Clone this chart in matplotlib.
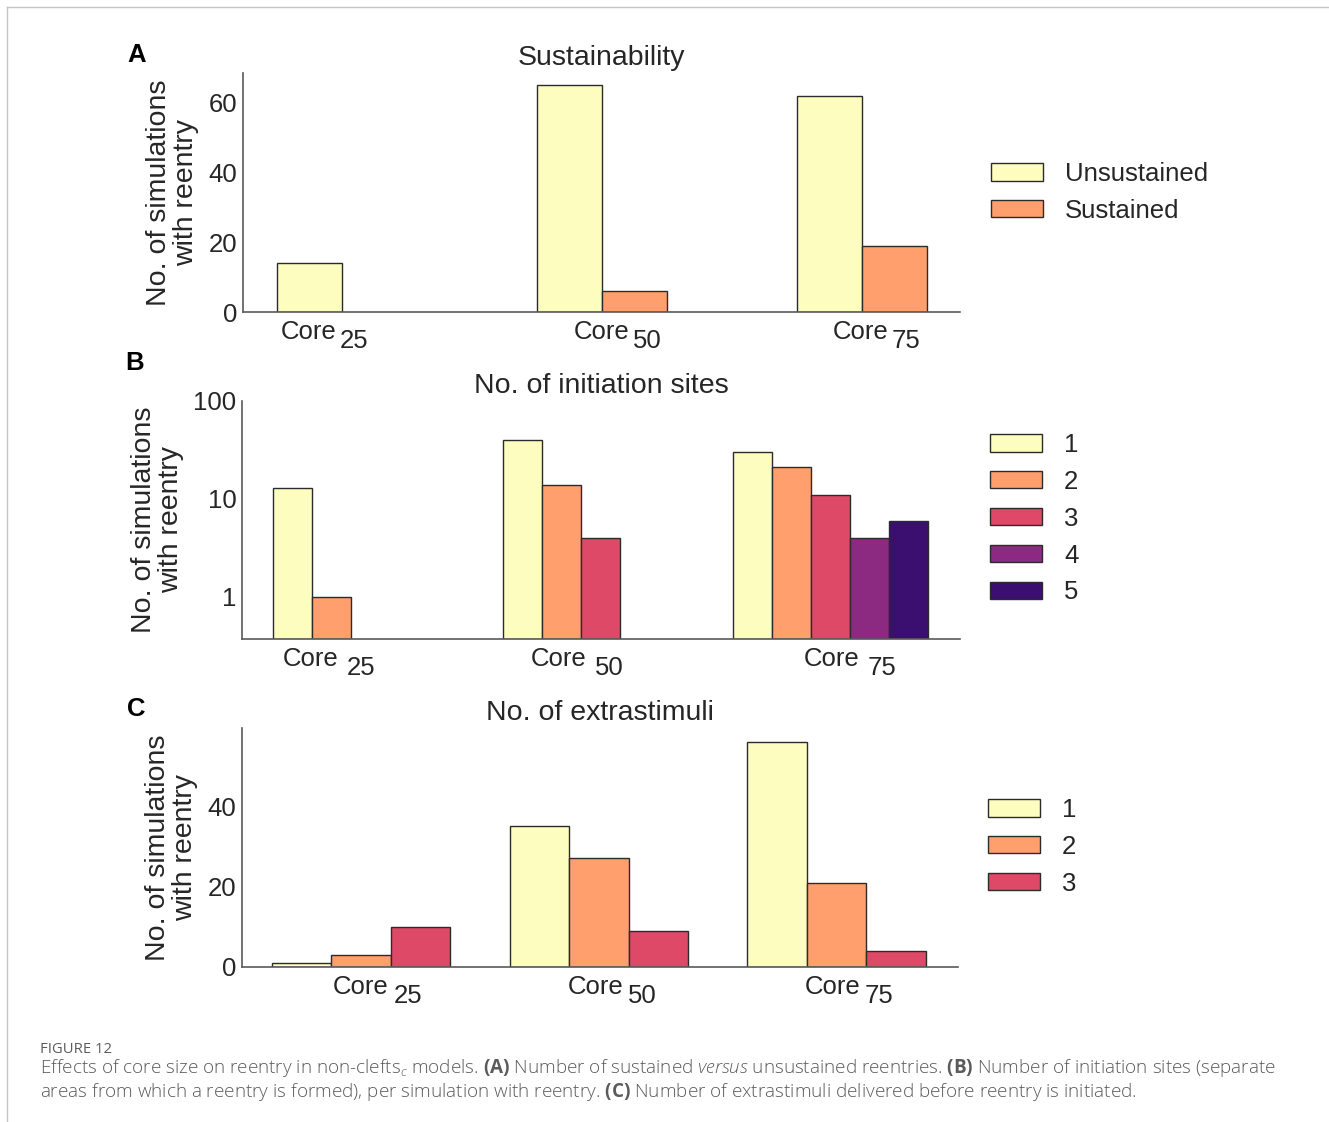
import matplotlib
matplotlib.use("Agg")
import matplotlib.pyplot as plt
from matplotlib.lines import Line2D
from matplotlib.patches import Patch

plt.rcParams["font.family"] = ["Liberation Sans", "DejaVu Sans"]
plt.rcParams["mathtext.fontset"] = "custom"
plt.rcParams["mathtext.rm"] = "Open Sans:light"
plt.rcParams["mathtext.it"] = "Open Sans:italic:light"
plt.rcParams["mathtext.bf"] = "Open Sans:bold"

# core sizes on the x axis
core_sizes = ["25", "50", "75"]

# (A) sustainability of reentry
unsustained = [14, 65, 62]
sustained = [0, 6, 19]
sustain_labels = ["Unsustained", "Sustained"]

# (B) number of initiation sites per simulation (log axis)
sites_1 = [13, 40, 30]
sites_2 = [1, 14, 21]
sites_3 = [0, 4, 11]
sites_4 = [0, 0, 4]
sites_5 = [0, 0, 6]
site_labels = ["1", "2", "3", "4", "5"]

# (C) number of extrastimuli before reentry
extra_1 = [1, 35, 56]
extra_2 = [3, 27, 21]
extra_3 = [10, 9, 4]
extra_labels = ["1", "2", "3"]

W, H = 1329, 1122
fig = plt.figure(figsize=(W / 100, H / 100), dpi=100)

colors = plt.cm.magma([1.0, 0.8, 0.6, 0.4, 0.2])
TXT = "#262626"
EDGE = "#2b2b2b"
TICK_FS = 18.5
TITLE_FS = 20.5


def px_axes(left, top, right, bottom):
    return fig.add_axes([left / W, 1 - bottom / H, (right - left) / W, (bottom - top) / H])


def style_axes(ax, title):
    for side in ("top", "right"):
        ax.spines[side].set_visible(False)
    for side in ("left", "bottom"):
        ax.spines[side].set_color("#5a5a5a")
        ax.spines[side].set_linewidth(1.2)
    ax.tick_params(axis="both", length=0, labelsize=TICK_FS, labelcolor=TXT, pad=4)
    ax.set_xticks([])
    ax.set_title(title, fontsize=TITLE_FS, color=TXT, pad=6)
    ax.set_ylabel("No. of simulations\nwith reentry", fontsize=TITLE_FS, color=TXT,
                  linespacing=1.05, labelpad=7)


def grouped_bars(ax, series, width, bottom=0):
    n = len(series)
    for j, vals in enumerate(series):
        xs = [i + 1 + (j - (n - 1) / 2) * width for i in range(len(vals))]
        keep = [(x, v) for x, v in zip(xs, vals) if v > bottom]
        ax.bar([k[0] for k in keep], [k[1] - bottom for k in keep], width=width,
               bottom=bottom, color=colors[j], edgecolor=EDGE, linewidth=1.0, zorder=2)


def core_labels(ax, positions, gap):
    # "Core" with the size written level-shifted below it, as a subscript
    for pos, size in zip(positions, core_sizes):
        ax.annotate("Core", xy=(pos, 0), xycoords=("data", "axes fraction"),
                    xytext=(-gap / 2, -8), textcoords="offset pixels",
                    ha="right", va="top", fontsize=TICK_FS, color=TXT)
        ax.annotate(size, xy=(pos, 0), xycoords=("data", "axes fraction"),
                    xytext=(gap / 2, -17), textcoords="offset pixels",
                    ha="left", va="top", fontsize=TICK_FS, color=TXT)


def legend(ax, labels, x, y):
    handles = [Patch(facecolor=colors[i], edgecolor=EDGE, linewidth=1.0)
               for i in range(len(labels))]
    ax.legend(handles, labels, loc="upper left", bbox_to_anchor=(x / W, 1 - y / H),
              bbox_transform=fig.transFigure, frameon=False, fontsize=TICK_FS,
              handlelength=2.02, handleheight=0.66, handletextpad=0.86,
              labelspacing=0.5, borderpad=0, borderaxespad=0, labelcolor=TXT)


# Panel A
ax_a = px_axes(243, 73, 960, 312)
grouped_bars(ax_a, [unsustained, sustained], 0.25)
ax_a.set_xlim(0.619, 3.377)
ax_a.set_ylim(0, 68.5)
ax_a.set_yticks([0, 20, 40, 60])
style_axes(ax_a, "Sustainability")
core_labels(ax_a, [0.985, 2.113, 3.108], 4)
legend(ax_a, sustain_labels, 991, 162)

# Panel B
ax_b = px_axes(242, 401, 960, 639)
ax_b.set_yscale("log")
y_floor = 0.37
grouped_bars(ax_b, [sites_1, sites_2, sites_3, sites_4, sites_5], 0.17, bottom=y_floor)
ax_b.set_xlim(0.438, 3.566)
ax_b.set_ylim(y_floor, 100)
ax_b.set_yticks([1, 10, 100])
ax_b.set_yticklabels(["1", "10", "100"])
ax_b.minorticks_off()
style_axes(ax_b, "No. of initiation sites")
core_labels(ax_b, [0.878, 1.956, 3.144], 8)
legend(ax_b, site_labels, 990, 433)

# Panel C
ax_c = px_axes(242, 728, 958, 967)
grouped_bars(ax_c, [extra_1, extra_2, extra_3], 0.25)
ax_c.set_xlim(0.5, 3.51)
ax_c.set_ylim(0, 59.4)
ax_c.set_yticks([0, 20, 40])
style_axes(ax_c, "No. of extrastimuli")
core_labels(ax_c, [1.126, 2.113, 3.109], 5)
legend(ax_c, extra_labels, 988, 798)

# panel letters
for letter, (x, y) in zip("ABC", [(137, 55), (135, 363), (136, 709)]):
    fig.text(x / W, 1 - y / H, letter, fontsize=18.5, fontweight="bold",
             ha="center", va="center", color="black")

# page frame
fig.add_artist(Line2D([7 / W, 1], [1 - 7 / H, 1 - 7 / H], color="#c4c4c4", lw=1.0))
fig.add_artist(Line2D([7 / W, 7 / W], [0, 1 - 7 / H], color="#c4c4c4", lw=1.0))

# caption
CAP = "#5b5b5b"
CAP_FS = 13.6
fig.text(40 / W, 1 - 1053 / H, "FIGURE 12", family="Open Sans", fontsize=10.7,
         color=CAP, va="baseline")
fig.text(40 / W, 1 - 1073 / H,
         r"Effects of core size on reentry in non-clefts$_{c}$ models. $\mathbf{(A)}$ Number "
         r"of sustained $\mathit{versus}$ unsustained reentries. $\mathbf{(B)}$ Number of "
         r"initiation sites (separate",
         family="Open Sans", fontweight="light", fontsize=CAP_FS, color=CAP, va="baseline")
fig.text(40 / W, 1 - 1097 / H,
         r"areas from which a reentry is formed), per simulation with reentry. "
         r"$\mathbf{(C)}$ Number of extrastimuli delivered before reentry is initiated.",
         family="Open Sans", fontweight="light", fontsize=CAP_FS, color=CAP, va="baseline")

fig.savefig("out.png", dpi=100, facecolor="white")
